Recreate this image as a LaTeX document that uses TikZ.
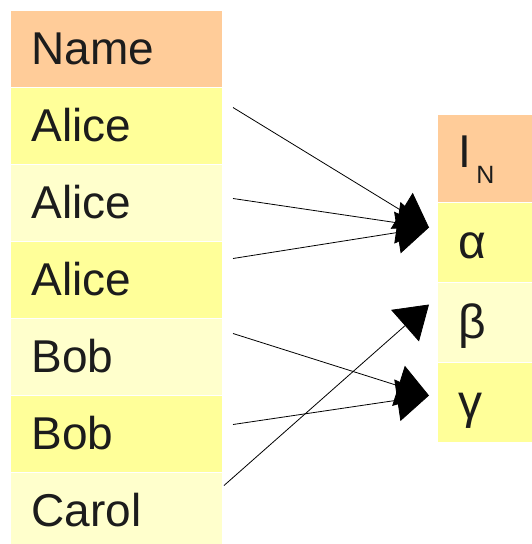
\documentclass[tikz,border=0pt]{standalone}
\usepackage{fontspec}
\setmainfont{Liberation Sans}
\usetikzlibrary{positioning}
\usetikzlibrary{arrows.meta}

\definecolor{headpeach}{HTML}{FFCC99}
\definecolor{rowyellow}{HTML}{FFFF99}
\definecolor{rowlight}{HTML}{FFFFCC}
\definecolor{inkgray}{HTML}{1C1C1C}

\tikzset{
    cell/.style={anchor=north west, draw=white, line width=1pt,
        minimum height=77pt, text width=170pt, inner xsep=21pt,
        text height=34pt, text depth=3pt, align=left, text=inkgray,
        font=\fontsize{46}{50}\selectfont},
    gcell/.style={cell, text width=66pt, minimum height=80pt,
        font=\fontsize{48}{52}\selectfont},
    link/.style={-{Triangle[length=32pt,width=42pt]}, line width=0.8pt}
}

\begin{document}
\begin{tikzpicture}[x=1pt, y=-1pt]
        \useasboundingbox (0,0) rectangle (532,544);

        % left table
        \node[cell, fill=headpeach] (name) at (10,9.5) {Name};
        \node[cell, fill=rowyellow] (alice1) at (10,86.5) {Alice};
        \node[cell, fill=rowlight] (alice2) at (10,163.5) {Alice};
        \node[cell, fill=rowyellow] (alice3) at (10,240.5) {Alice};
        \node[cell, fill=rowlight] (bob1) at (10,317.5) {Bob};
        \node[cell, fill=rowyellow] (bob2) at (10,394.5) {Bob};
        \node[cell, fill=rowlight] (carol) at (10,471.5) {Carol};

        % right table
        \node[gcell, fill=headpeach, minimum height=88pt,
            text height=34pt, text depth=16pt,
            font=\fontsize{46}{50}\selectfont] (iN) at (437,114)
            {I\hspace{5pt}{\fontsize{25}{25}\selectfont\raisebox{-16pt}{N}}};
        \node[gcell, fill=rowyellow] (alpha) at (437,202) {α};
        \node[gcell, fill=rowlight] (beta) at (437,282) {β};
        \node[gcell, fill=rowyellow] (gamma) at (437,362) {γ};

        % links
        \draw[link] ([xshift=10pt,yshift=18pt]alice1.east) -- ([xshift=-8pt,yshift=15pt]alpha.west);
        \draw[link] ([xshift=10pt,yshift=4pt]alice2.east) -- ([xshift=-8pt,yshift=15pt]alpha.west);
        \draw[link] ([xshift=10pt,yshift=21pt]alice3.east) -- ([xshift=-8pt,yshift=15pt]alpha.west);
        \draw[link] ([xshift=10pt,yshift=23pt]bob1.east) -- ([xshift=-8pt,yshift=7pt]gamma.west);
        \draw[link] ([xshift=10pt,yshift=9pt]bob2.east) -- ([xshift=-8pt,yshift=7pt]gamma.west);
        \draw[link] ([xshift=1pt,yshift=25pt]carol.east) -- ([xshift=-8pt,yshift=18pt]beta.west);

    \end{tikzpicture}
\end{document}
